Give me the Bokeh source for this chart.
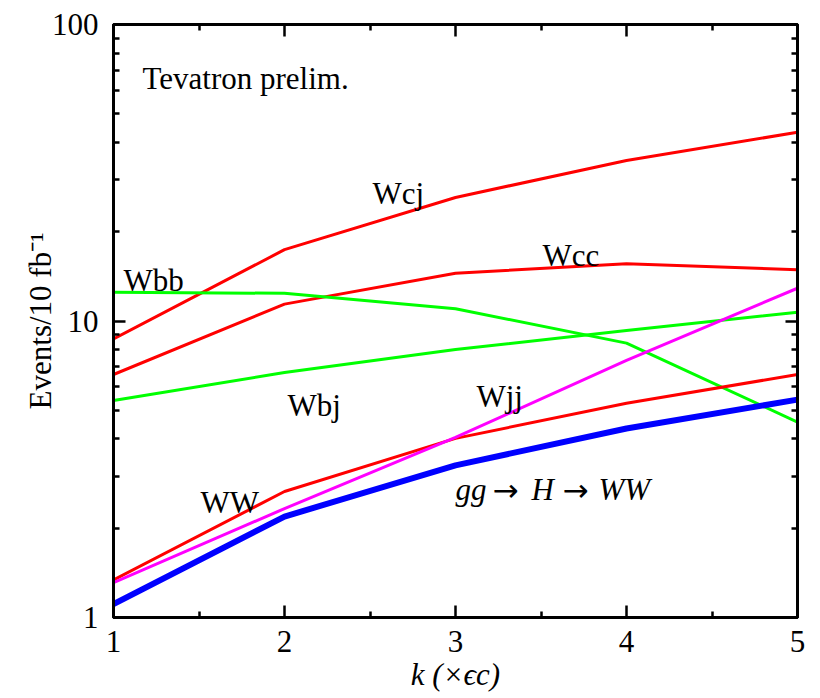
import math
from bokeh.plotting import figure
from bokeh.models import (Range1d, FixedTicker, LogAxis, LinearAxis, Label,
                          PrintfTickFormatter, CustomJSTickFormatter)
from bokeh.embed import file_html
from bokeh.resources import INLINE

# ---- data ----
k = [1, 2, 3, 4, 5]
Wcj = [8.7, 17.4, 26.1, 34.8, 43.3]
Wcc = [6.6, 11.4, 14.5, 15.6, 14.9]
Wbb = [12.5, 12.4, 11.0, 8.42, 4.56]
Wbj = [5.39, 6.70, 8.01, 9.29, 10.7]
WW = [1.34, 2.66, 4.02, 5.28, 6.6]
Wjj = [1.31, 2.33, 4.05, 7.36, 12.9]
ggHWW = [1.11, 2.19, 3.26, 4.34, 5.43]

x_ticks = [1, 2, 3, 4, 5]
x_minor = [1.5, 2.5, 3.5, 4.5]
y_ticks = [1, 10, 100]
y_minor = [2, 3, 4, 5, 6, 7, 8, 9, 20, 30, 40, 50, 60, 70, 80, 90]

FONT = "Liberation Serif"
FS = "31px"

p = figure(width=820, height=698, output_backend="svg", toolbar_location=None,
           x_range=Range1d(1, 5), y_range=Range1d(1, 100), y_axis_type="log",
           min_border_left=113, min_border_right=23, min_border_top=24,
           min_border_bottom=81)
p.background_fill_color = "white"
p.border_fill_color = "white"
p.xgrid.visible = False
p.ygrid.visible = False
p.outline_line_color = "black"
p.outline_line_width = 3


def style_axis(ax, labels=True):
    ax.axis_line_width = 3
    ax.axis_line_color = "black"
    ax.major_tick_in = 12
    ax.major_tick_out = 0
    ax.minor_tick_in = 6
    ax.minor_tick_out = 0
    ax.major_tick_line_width = 2.5
    ax.minor_tick_line_width = 2.5
    ax.major_tick_line_color = "black"
    ax.minor_tick_line_color = "black"
    ax.major_label_text_font = FONT
    ax.major_label_text_font_size = FS if labels else "2px"
    ax.major_label_text_color = "black"
    ax.axis_label_text_font = FONT
    ax.axis_label_text_font_size = FS
    ax.axis_label_text_color = "black"


xt = FixedTicker(ticks=x_ticks, minor_ticks=x_minor)
yt = FixedTicker(ticks=y_ticks, minor_ticks=y_minor)

p.xaxis.ticker = xt
p.yaxis.ticker = yt
p.yaxis.formatter = PrintfTickFormatter(format="%d")
for ax in p.xaxis:
    style_axis(ax)
    ax.major_label_standoff = 13
    ax.axis_label = "k (×ϵc)"
    ax.axis_label_text_font_style = "italic"
    ax.axis_label_standoff = 2
for ax in p.yaxis:
    style_axis(ax)
    ax.major_label_standoff = 15
    ax.axis_label = "Events/10 fb⁻¹"
    ax.axis_label_text_font_style = "normal"
    ax.axis_label_standoff = -9

top = LinearAxis(ticker=FixedTicker(ticks=x_ticks, minor_ticks=x_minor),
                 formatter=CustomJSTickFormatter(code="return ''"))
style_axis(top, labels=False)
top.major_label_standoff = 0
p.add_layout(top, "above")
right = LogAxis(ticker=FixedTicker(ticks=y_ticks, minor_ticks=y_minor),
                formatter=CustomJSTickFormatter(code="return ''"))
style_axis(right, labels=False)
right.major_label_standoff = 0
p.add_layout(right, "right")

# ---- series ----
series = [
    (Wcj, "#ff0000", 3),
    (Wcc, "#ff0000", 3),
    (Wbb, "#00ff00", 3),
    (Wbj, "#00ff00", 3),
    (WW, "#ff0000", 3),
    (Wjj, "#ff00ff", 3),
    (ggHWW, "#0000ff", 6),
]
for ys, col, lw in series:
    p.line(k, ys, line_color=col, line_width=lw)

# ---- pixel -> data helpers for annotation placement ----
FL, FR, FT, FB = 113, 797, 24, 617


def dx(px):
    return 1 + (px - FL) * 4.0 / (FR - FL)


def dy(py):
    return 10 ** ((FB - py) * 2.0 / (FB - FT))


def lab(text, px, py, size=FS, style="normal", font=FONT):
    p.add_layout(Label(x=dx(px), y=dy(py), text=text, text_font=font,
                       text_font_size=size, text_font_style=style,
                       text_color="black", text_align="left",
                       text_baseline="alphabetic"))


lab("Tevatron prelim.", 142, 78)
lab("Wbb", 123, 280)
lab("Wcj", 372, 193)
lab("Wcc", 542, 255)
lab("Wbj", 287, 405)
lab("Wjj", 476, 396)
lab("WW", 200, 502)

# gg -> H -> WW (math style)
lab("gg", 455, 489, style="italic")
lab("→", 492, 489, font="DejaVu Sans")
lab("H", 531, 489, style="italic")
lab("→", 562, 489, font="DejaVu Sans")
lab("WW", 598, 489, style="italic")

open("out.html", "w").write(file_html(p, INLINE))
